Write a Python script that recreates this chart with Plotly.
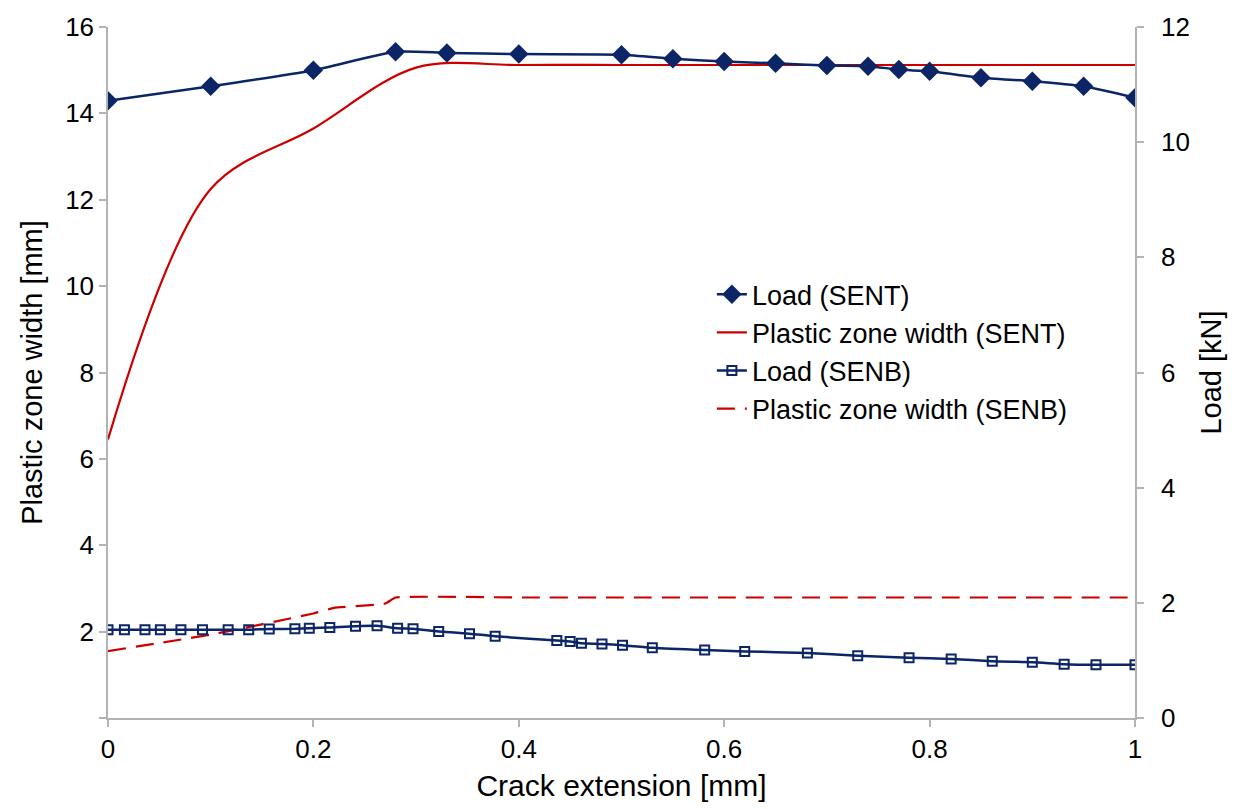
import plotly.graph_objects as go

# ---- data ----
crack_sent = [0, 0.1, 0.2, 0.28, 0.33, 0.4, 0.5, 0.55, 0.6, 0.65, 0.7, 0.74, 0.77, 0.8, 0.85, 0.9, 0.95, 1.0]
load_sent = [10.72, 10.97, 11.25, 11.57, 11.55, 11.53, 11.52, 11.45, 11.40, 11.37, 11.33, 11.32, 11.26, 11.23, 11.12, 11.06, 10.97, 10.77]

crack_pz_sent = [0, 0.1, 0.2, 0.3, 0.4, 0.5, 0.6, 0.7, 0.8, 0.9, 1.0]
pz_sent = [6.45, 12.25, 13.65, 15.06, 15.12, 15.12, 15.12, 15.12, 15.12, 15.12, 15.12]

crack_senb = [0, 0.016, 0.036, 0.051, 0.071, 0.092, 0.117, 0.137, 0.157, 0.182, 0.196, 0.216,
              0.241, 0.262, 0.282, 0.297, 0.322, 0.352, 0.377, 0.437, 0.450, 0.461, 0.481, 0.501,
              0.530, 0.581, 0.620, 0.681, 0.730, 0.780, 0.821, 0.861, 0.900, 0.931, 0.962, 1.0]
load_senb = [1.533, 1.533, 1.533, 1.533, 1.533, 1.533, 1.533, 1.533, 1.544, 1.55, 1.56, 1.573,
             1.595, 1.60, 1.56, 1.55, 1.504, 1.465, 1.419, 1.345, 1.328, 1.299, 1.287, 1.265,
             1.219, 1.179, 1.157, 1.128, 1.082, 1.048, 1.026, 0.986, 0.969, 0.935, 0.923, 0.923]

crack_pz_senb = [0, 0.1, 0.2, 0.22, 0.27, 0.28, 0.4, 0.5, 0.6, 0.7, 0.8, 0.9, 1.0]
pz_senb = [1.55, 1.93, 2.42, 2.55, 2.65, 2.79, 2.79, 2.79, 2.79, 2.79, 2.79, 2.79, 2.79]

x_ticks = [0, 0.2, 0.4, 0.6, 0.8, 1.0]
x_tick_labels = ["0", "0.2", "0.4", "0.6", "0.8", "1"]
left_ticks = [0, 2, 4, 6, 8, 10, 12, 14, 16]
left_tick_labels = ["", "2", "4", "6", "8", "10", "12", "14", "16"]
right_ticks = [0, 2, 4, 6, 8, 10, 12]

NAVY = "#0b2566"
RED = "#cc0000"
GREY = "#b3b3b3"
FONT = "Liberation Sans, Arial, sans-serif"

fig = go.Figure()
fig.add_trace(go.Scatter(x=crack_sent, y=load_sent, name="Load (SENT)", yaxis="y2",
                         mode="lines+markers", line=dict(color=NAVY, width=2.5, shape="spline", smoothing=0.6),
                         marker=dict(symbol="diamond", size=15, color=NAVY)))
fig.add_trace(go.Scatter(x=crack_pz_sent, y=pz_sent, name="Plastic zone width (SENT)", yaxis="y",
                         mode="lines", line=dict(color=RED, width=2.2, shape="spline", smoothing=0.95)))
fig.add_trace(go.Scatter(x=crack_senb, y=load_senb, name="Load (SENB)", yaxis="y2",
                         mode="lines+markers", line=dict(color=NAVY, width=2.5, shape="spline", smoothing=0.6),
                         marker=dict(symbol="square-open", size=9, color=NAVY, line=dict(width=2, color=NAVY))))
fig.add_trace(go.Scatter(x=crack_pz_senb, y=pz_senb, name="Plastic zone width (SENB)", yaxis="y",
                         mode="lines", line=dict(color=RED, width=2.2, dash="18px,10px", shape="spline", smoothing=0.35)))

axis_common = dict(showgrid=False, zeroline=False, showline=True, linecolor=GREY, linewidth=1.5,
                   ticks="outside", ticklen=7, tickcolor=GREY, tickwidth=1.5,
                   tickfont=dict(family=FONT, size=26, color="black"))

fig.update_layout(
    width=1238, height=809,
    margin=dict(l=108, r=103, t=16, b=91),
    paper_bgcolor="white", plot_bgcolor="white",
    font=dict(family=FONT, color="black"),
    xaxis=dict(range=[0, 1], tickvals=x_ticks, ticktext=x_tick_labels,
               title=dict(text="Crack extension [mm]", font=dict(family=FONT, size=30), standoff=12),
               **axis_common),
    yaxis=dict(range=[0, 16], tickvals=left_ticks, ticktext=left_tick_labels,
               title=dict(text="Plastic zone width [mm]", font=dict(family=FONT, size=29), standoff=14),
               **axis_common),
    yaxis2=dict(range=[0, 12], tickvals=right_ticks, overlaying="y", side="right",
                ticklabelstandoff=12,
                title=dict(text="Load [kN]", font=dict(family=FONT, size=29), standoff=12),
                **axis_common),
    legend=dict(x=0.588, y=0.648, xanchor="left", yanchor="top", bgcolor="rgba(0,0,0,0)",
                font=dict(family=FONT, size=27, color="black"), tracegroupgap=0),
    showlegend=True,
)

fig.write_html("out.html")
